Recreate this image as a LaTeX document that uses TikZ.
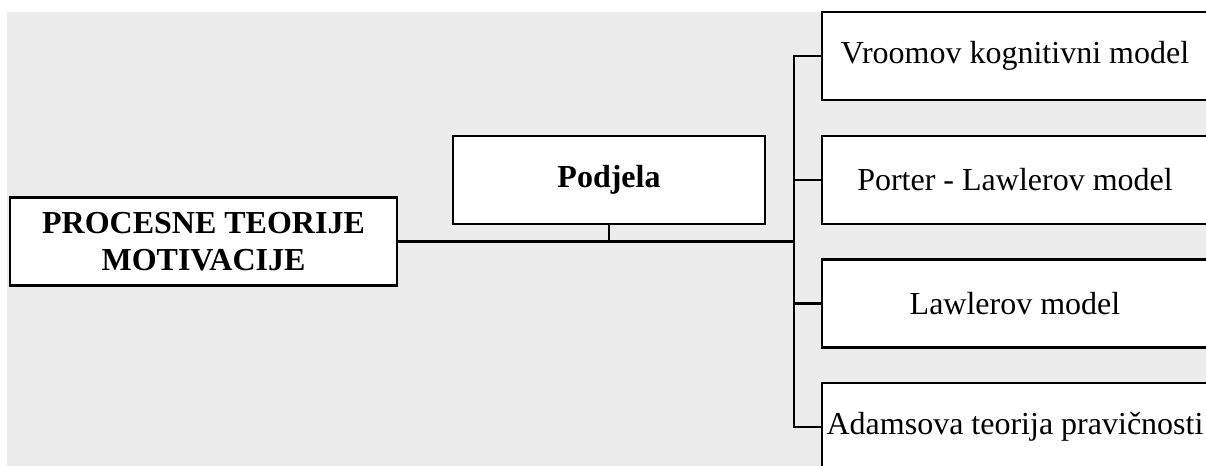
\documentclass[tikz,border=0pt]{standalone}
\usepackage{fontspec}
\setmainfont{Liberation Serif}
\usepackage{xcolor}

\tikzset{
  box/.style={draw, line width=1.6pt, fill=white, inner sep=0.75pt,
    minimum width=290pt, minimum height=66pt, align=center,
    font=\fontsize{24}{27.75}\selectfont},
  link/.style={line width=1.6pt},
}

\begin{document}
\begin{tikzpicture}[x=0.75pt,y=0.75pt,yscale=-1,xscale=1]
\useasboundingbox (0,0) rectangle (1206,466);
\clip (0,0) rectangle (1206,466);

%Shape: Rectangle [background]
\fill [color={rgb, 255:red, 236; green, 236; blue, 236 }] (7,12) rectangle (1206,466);

% Text Node
\node [box] (procesne) at (203.5,241.5) {\textbf{PROCESNE TEORIJE}\\\textbf{MOTIVACIJE}};
% Text Node
\node [box, minimum width=234pt] (podjela) at (609,180) {\textbf{Podjela}};
% Text Node
\node [box] (vroom) at (1015,56) {Vroomov kognitivni model};
% Text Node
\node [box] (porter) at (1015,180) {Porter - Lawlerov model};
% Text Node
\node [box] (lawler) at (1015,303.5) {Lawlerov model};
% Text Node
\node [box] (adams) at (1015,427) {Adamsova teorija pravičnosti};

\coordinate (trunk) at (794,0);

%Straight Lines
\draw [link] (procesne.east) -- (procesne.east -| trunk);
\draw [link] (podjela.south) -- (podjela.south |- procesne.east);
%Straight Lines
\draw [link] (vroom.west) -- (vroom.west -| trunk) -- (adams.west -| trunk) -- (adams.west);
\draw [link] (porter.west) -- (porter.west -| trunk);
\draw [link] (lawler.west) -- (lawler.west -| trunk);

\end{tikzpicture}
\end{document}
